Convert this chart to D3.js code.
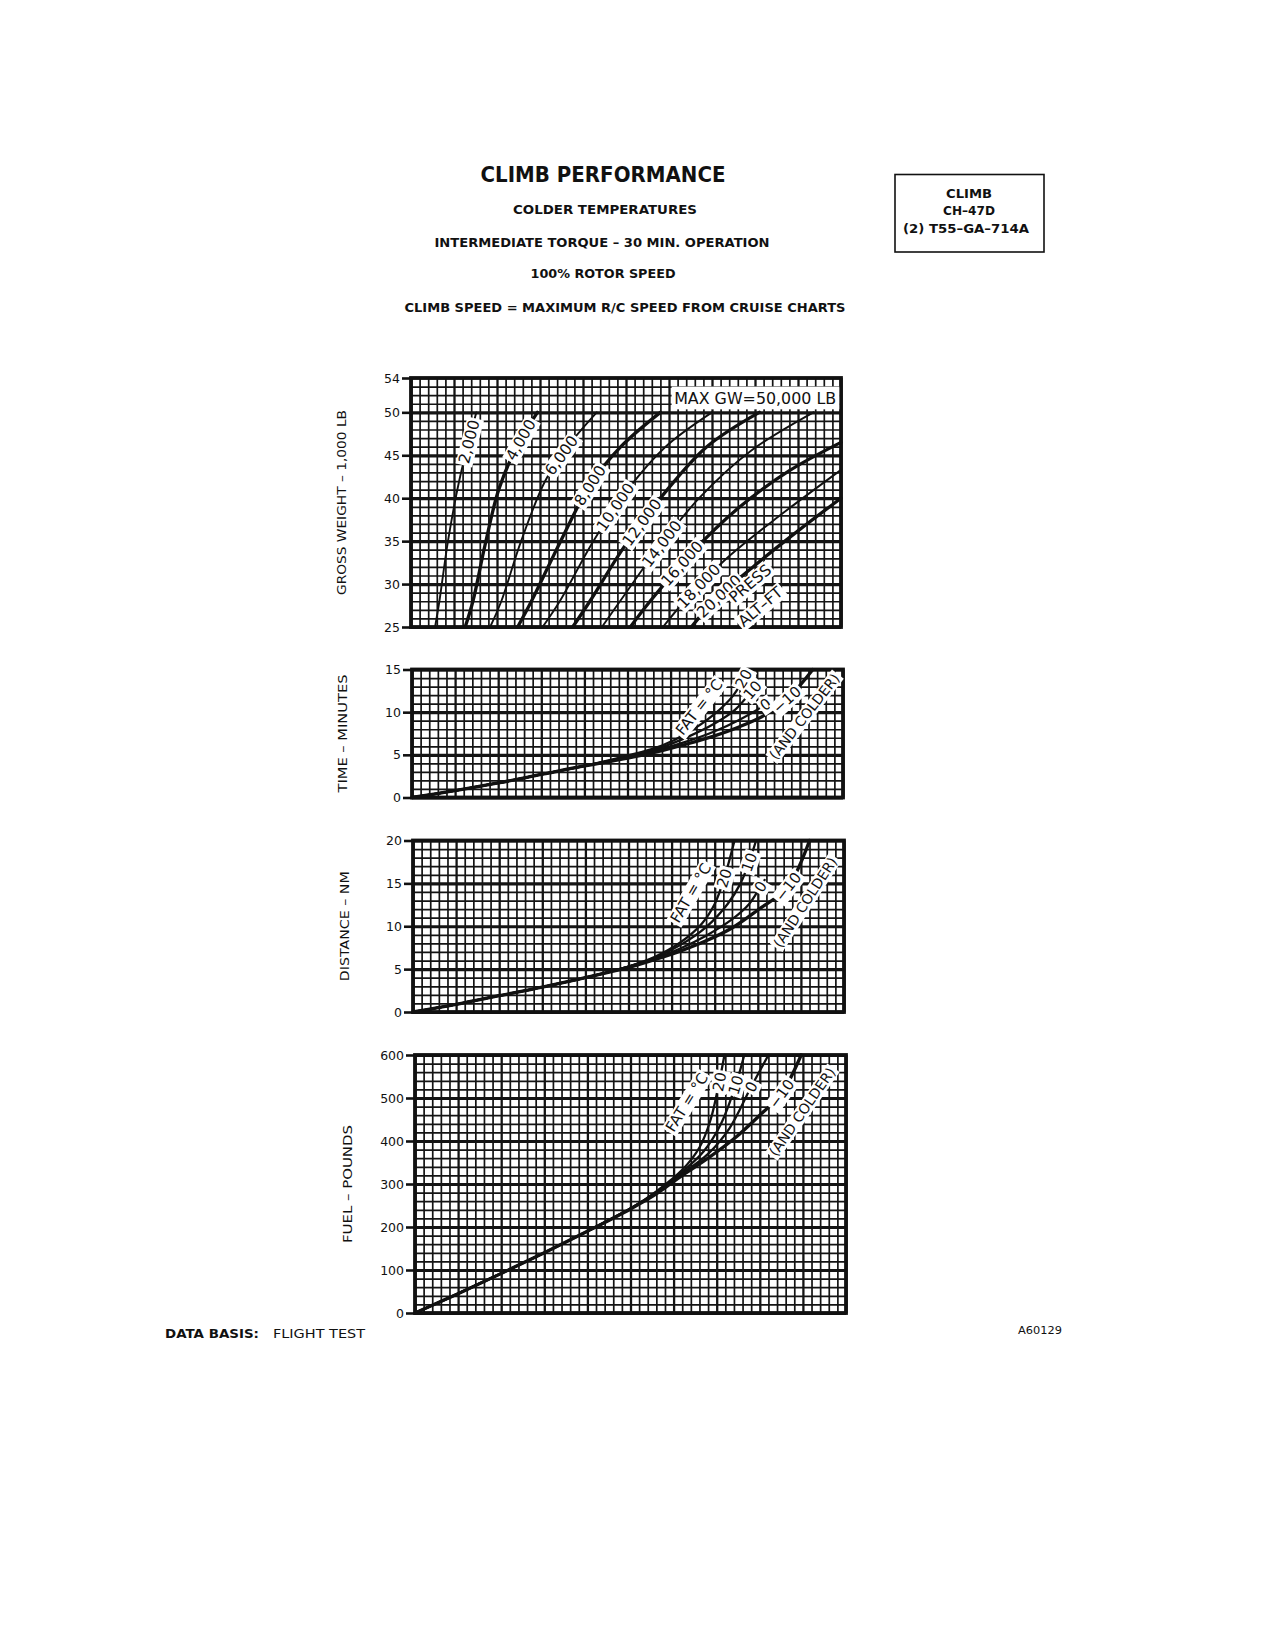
<!DOCTYPE html>
<html>
<head>
<meta charset="utf-8">
<script src="https://cdn.jsdelivr.net/npm/d3@7"></script>
<style>
  body { margin: 0; background: #fff; }
  svg text { font-family: "DejaVu Sans", "Liberation Sans", sans-serif; fill: #111; }
</style>
</head>
<body>
<script>
// ---- values ----
// x runs in grid divisions (0-50); the chart has no x labels
var gwTicks   = [54, 50, 45, 40, 35, 30, 25];
var timeTicks = [15, 10, 5, 0];
var distTicks = [20, 15, 10, 5, 0];
var fuelTicks = [600, 500, 400, 300, 200, 100, 0];

var pressAlt = ["2,000", "4,000", "6,000", "8,000", "10,000", "12,000", "14,000", "16,000", "18,000", "20,000"];
// gross weight (1,000 lb) lines, one per pressure altitude
var gwCurves = [
  [[2.8, 25], [3.3, 28], [4.3, 35], [5.6, 42], [7.6, 50]],
  [[6.3, 25], [7.2, 28], [8.6, 34.5], [10.2, 41], [12.3, 46], [14.7, 50]],
  [[9.2, 25], [10.5, 28], [12.8, 35], [15.6, 42], [18.2, 46], [21.6, 50]],
  [[12.4, 25], [14.0, 28], [17.4, 35], [20.8, 41.5], [24.4, 46], [29.0, 50]],
  [[15.3, 25], [17.3, 28], [21.2, 35], [25.2, 41], [29.6, 46], [35.0, 50]],
  [[18.8, 25], [20.8, 28], [24.9, 34.5], [29.4, 40.5], [34.4, 46], [40.5, 50]],
  [[22.2, 25], [24.3, 28], [28.6, 34], [33.5, 40], [39.5, 45.5], [46.8, 50]],
  [[25.5, 25], [27.8, 28], [32.5, 33.5], [38.0, 38.8], [44.0, 43.2], [50, 46.5]],
  [[29.3, 25], [31.8, 28], [36.5, 32.8], [42.0, 37.3], [50, 43.3]],
  [[32.6, 25], [35.2, 28], [40.0, 32.2], [45.0, 36.2], [50, 40.0]]
];

var fatTemps = ["20", "10", "0", "\u221210"];
// time - minutes
var timeCurves = [
  [[0, 0], [5, 0.8], [10, 1.7], [15, 2.7], [20, 3.7], [25, 4.9], [29, 6.1], [32, 7.6], [35, 9.7], [37.3, 12], [39, 15]],
  [[0, 0], [5, 0.8], [10, 1.7], [15, 2.7], [20, 3.7], [25, 4.8], [29, 5.9], [32, 7.1], [35, 8.6], [37.5, 10.3], [39.5, 12.6], [40.2, 13.4]],
  [[0, 0], [5, 0.8], [10, 1.7], [15, 2.7], [20, 3.7], [25, 4.7], [29, 5.7], [32, 6.6], [35, 7.7], [38, 9.1], [41, 10.9], [41.5, 11.3]],
  [[0, 0], [5, 0.8], [10, 1.7], [15, 2.7], [20, 3.7], [25, 4.6], [29, 5.5], [32, 6.3], [35, 7.2], [38, 8.3], [41, 9.7], [43.5, 11.5], [46.5, 15]]
];
// distance - NM
var distCurves = [
  [[0, 0], [5, 0.9], [10, 1.9], [15, 2.9], [20, 4.0], [25, 5.3], [28, 6.4], [31, 8.1], [33.5, 10.3], [35, 12.6], [36.1, 15.6], [37.3, 20]],
  [[0, 0], [5, 0.9], [10, 1.9], [15, 2.9], [20, 4.0], [25, 5.3], [28, 6.3], [31, 7.8], [34, 9.9], [36.5, 12.6], [38, 15], [39, 17.5], [39.8, 20]],
  [[0, 0], [5, 0.9], [10, 1.9], [15, 2.9], [20, 4.0], [25, 5.3], [28, 6.2], [31, 7.4], [34, 8.9], [37, 10.8], [39, 12.6], [40.3, 14.6], [40.8, 15.4]],
  [[0, 0], [5, 0.9], [10, 1.9], [15, 2.9], [20, 4.0], [25, 5.2], [28, 6.1], [31, 7.1], [34, 8.3], [37, 9.8], [40, 11.9], [43.5, 14.6], [46, 20]]
];
// fuel - pounds
var fuelCurves = [
  [[0, 0], [5, 45], [10, 92], [15, 140], [20, 190], [25, 243], [28, 283], [31, 333], [33, 385], [34.3, 450], [35.3, 538], [35.9, 600]],
  [[0, 0], [5, 45], [10, 92], [15, 140], [20, 190], [25, 243], [28, 281], [31, 328], [33.5, 376], [35.5, 440], [37.2, 530], [38.2, 600]],
  [[0, 0], [5, 45], [10, 92], [15, 140], [20, 190], [25, 243], [28, 279], [31, 324], [34, 370], [36.5, 430], [39, 526], [41, 600]],
  [[0, 0], [5, 45], [10, 92], [15, 140], [20, 190], [25, 242], [28, 277], [31, 320], [34, 360], [37, 405], [40, 460], [42.5, 510], [44.8, 600]]
];

// ---- page ----
var svg = d3.select("body").append("svg").attr("width", 1275).attr("height", 1650);

function headText(str, x, y, size, len, weight) {
  svg.append("text").attr("x", x).attr("y", y).attr("text-anchor", "middle")
    .style("font-size", size + "px").style("font-weight", weight || "bold")
    .attr("textLength", len).attr("lengthAdjust", "spacingAndGlyphs").text(str);
}
headText("CLIMB PERFORMANCE", 603, 182, 21, 245);
headText("COLDER TEMPERATURES", 605, 214, 13, 184);
headText("INTERMEDIATE TORQUE \u2013 30 MIN. OPERATION", 602, 246.5, 13, 335);
headText("100% ROTOR SPEED", 603, 278, 13, 145);
headText("CLIMB SPEED = MAXIMUM R/C SPEED FROM CRUISE CHARTS", 625, 312, 13, 441);

svg.append("rect").attr("x", 895).attr("y", 174.5).attr("width", 149).attr("height", 77.5)
  .attr("fill", "none").attr("stroke", "#111").attr("stroke-width", 1.6);
headText("CLIMB", 969, 198, 13, 46);
headText("CH\u201347D", 969, 215, 13, 52);
headText("(2) T55\u2013GA\u2013714A", 966, 232.5, 13, 126);

svg.append("text").attr("x", 165).attr("y", 1338).style("font-size", "13px").style("font-weight", "bold")
  .attr("textLength", 94).attr("lengthAdjust", "spacingAndGlyphs").text("DATA BASIS:");
svg.append("text").attr("x", 273).attr("y", 1338).style("font-size", "13px")
  .attr("textLength", 92).attr("lengthAdjust", "spacingAndGlyphs").text("FLIGHT TEST");
svg.append("text").attr("x", 1062).attr("y", 1334).attr("text-anchor", "end").style("font-size", "11px")
  .attr("textLength", 44).attr("lengthAdjust", "spacingAndGlyphs").text("A60129");

// white tag with rotated text (curve labels)
function tag(g, x, y, ang, str, size) {
  var t = g.append("g").attr("transform", "translate(" + x + "," + y + ") rotate(" + ang + ")");
  var r = t.append("rect").attr("fill", "#fff");
  var tx = t.append("text").attr("text-anchor", "middle").attr("dy", "0.36em")
    .style("font-size", (size || 15) + "px").text(str);
  var bb = tx.node().getBBox();
  r.attr("x", bb.x - 2).attr("y", bb.y + 1).attr("width", bb.width + 4).attr("height", bb.height - 1);
  return t;
}

// put a tag on a drawn path where it crosses a given pixel height
function tagOnPath(g, node, yPx, str, size) {
  var L = node.getTotalLength(), best = 0, bd = 1e9;
  for (var l = 0; l <= L; l += 0.5) {
    var p = node.getPointAtLength(l), d = Math.abs(p.y - yPx);
    if (d < bd) { bd = d; best = l; }
  }
  var p0 = node.getPointAtLength(best),
      a = node.getPointAtLength(Math.max(0, best - 5)),
      b = node.getPointAtLength(Math.min(L, best + 5));
  var ang = Math.atan2(b.y - a.y, b.x - a.x) * 180 / Math.PI;
  return tag(g, p0.x, p0.y, ang, str, size);
}

function panel(o) {
  var x = d3.scaleLinear().domain([0, 50]).range([o.left, o.right]);
  var y = d3.scaleLinear().domain(o.domain).range([o.bottom, o.top]);
  var h = o.bottom - o.top, w = o.right - o.left;
  var g = svg.append("g");

  // grid
  var gx = g.append("g").attr("transform", "translate(0," + o.bottom + ")")
    .call(d3.axisBottom(x).tickValues(d3.range(0, 51)).tickSize(-h).tickFormat(""));
  gx.select(".domain").remove();
  gx.selectAll("line").attr("stroke", "#141414").attr("stroke-width", function(d) { return d % 5 === 0 ? 2.3 : 1.7; });

  var gy = g.append("g").attr("transform", "translate(" + o.left + ",0)")
    .call(d3.axisLeft(y).tickValues(d3.range(o.domain[0], o.domain[1] + 0.001, o.minor)).tickSize(-w).tickFormat(""));
  gy.select(".domain").remove();
  gy.selectAll("line").attr("stroke", "#141414").attr("stroke-width", function(d) { return d % o.major === 0 ? 3.2 : 1.7; });

  // labelled ticks
  var ay = g.append("g").attr("transform", "translate(" + o.left + ",0)")
    .call(d3.axisLeft(y).tickValues(o.ticks).tickSize(9).tickPadding(2));
  ay.select(".domain").remove();
  ay.selectAll("line").attr("stroke", "#111").attr("stroke-width", 2.6);
  ay.selectAll("text").style("font-size", "12.5px").style("font-family", "DejaVu Sans").attr("fill", "#111");

  // frame
  g.append("rect").attr("x", o.left).attr("y", o.top).attr("width", w).attr("height", h)
    .attr("fill", "none").attr("stroke", "#111").attr("stroke-width", 3.8);

  // axis title
  svg.append("text").attr("transform", "translate(" + o.titleX + "," + (o.top + o.bottom) / 2 + ") rotate(-90)")
    .attr("text-anchor", "middle").style("font-size", "13px")
    .attr("textLength", o.titleLen).attr("lengthAdjust", "spacingAndGlyphs").text(o.title);

  var line = d3.line().x(function(d) { return x(d[0]); }).y(function(d) { return y(d[1]); })
    .curve(d3.curveCatmullRom.alpha(0.5));
  var paths = g.append("g").selectAll("path").data(o.curves).join("path")
    .attr("d", line).attr("fill", "none").attr("stroke", "#111")
    .attr("stroke-linecap", "round")
    .attr("stroke-width", function(d, i) { return o.widths[i]; });

  return { g: g, x: x, y: y, paths: paths.nodes() };
}

// gross weight panel
var p1 = panel({ left: 411, right: 841, top: 378, bottom: 627, domain: [25, 54], minor: 1, major: 5,
  ticks: gwTicks, curves: gwCurves, widths: [1.9, 3.3, 1.9, 3.3, 1.9, 3.3, 1.9, 3.3, 1.9, 3.3],
  title: "GROSS WEIGHT \u2013 1,000 LB", titleX: 346, titleLen: 185 });
var altAt = [46.6, 46.8, 45, 41.5, 39, 37.2, 34.7, 32.4, 29.8, 28.6];
pressAlt.forEach(function(s, i) { tagOnPath(p1.g, p1.paths[i], p1.y(altAt[i]), s, 15.5); });
tag(p1.g, p1.x(39.4), p1.y(30.1), -40, "PRESS", 15.5);
tag(p1.g, p1.x(40.6), p1.y(27.4), -40, "ALT\u2013FT", 15.5);
p1.g.append("rect").attr("x", p1.x(30.3)).attr("y", p1.y(53.0)).attr("width", p1.x(49.8) - p1.x(30.3))
  .attr("height", p1.y(50.35) - p1.y(53.0)).attr("fill", "#fff");
p1.g.append("text").attr("x", p1.x(30.6)).attr("y", p1.y(51.65)).attr("dy", "0.36em").style("font-size", "15px")
  .attr("textLength", 162).attr("lengthAdjust", "spacingAndGlyphs").text("MAX GW=50,000 LB");

// time panel
var p2 = panel({ left: 412, right: 843, top: 669.5, bottom: 797.5, domain: [0, 15], minor: 1, major: 5,
  ticks: timeTicks, curves: timeCurves, widths: [2.3, 2.3, 2.3, 3.3],
  title: "TIME \u2013 MINUTES", titleX: 347, titleLen: 118 });
var timeAt = [13.9, 12.6, 10.9, 11.5];
fatTemps.forEach(function(s, i) { tagOnPath(p2.g, p2.paths[i], p2.y(timeAt[i]), s, 15); });
tag(p2.g, p2.x(33.3), p2.y(10.6), -52, "FAT = \u00b0C", 15);
tag(p2.g, p2.x(45.5), p2.y(9.5), -52, "(AND COLDER)", 14);

// distance panel
var p3 = panel({ left: 413, right: 844, top: 840.5, bottom: 1012, domain: [0, 20], minor: 1, major: 5,
  ticks: distTicks, curves: distCurves, widths: [2.3, 2.3, 2.3, 3.3],
  title: "DISTANCE \u2013 NM", titleX: 349, titleLen: 110 });
var distAt = [15.6, 17.5, 14.6, 14.6];
fatTemps.forEach(function(s, i) { tagOnPath(p3.g, p3.paths[i], p3.y(distAt[i]), s, 15); });
tag(p3.g, p3.x(32.2), p3.y(13.9), -60, "FAT = \u00b0C", 15);
tag(p3.g, p3.x(45.5), p3.y(12.8), -57, "(AND COLDER)", 14);

// fuel panel
var p4 = panel({ left: 415, right: 846, top: 1055, bottom: 1313, domain: [0, 600], minor: 20, major: 100,
  ticks: fuelTicks, curves: fuelCurves, widths: [2.3, 2.3, 2.3, 3.3],
  title: "FUEL \u2013 POUNDS", titleX: 352, titleLen: 118 });
var fuelAt = [538, 530, 526, 510];
fatTemps.forEach(function(s, i) { tagOnPath(p4.g, p4.paths[i], p4.y(fuelAt[i]), s, 15); });
tag(p4.g, p4.x(31.5), p4.y(490), -58, "FAT = \u00b0C", 15);
tag(p4.g, p4.x(44.9), p4.y(468), -55, "(AND COLDER)", 14);
</script>
</body>
</html>
